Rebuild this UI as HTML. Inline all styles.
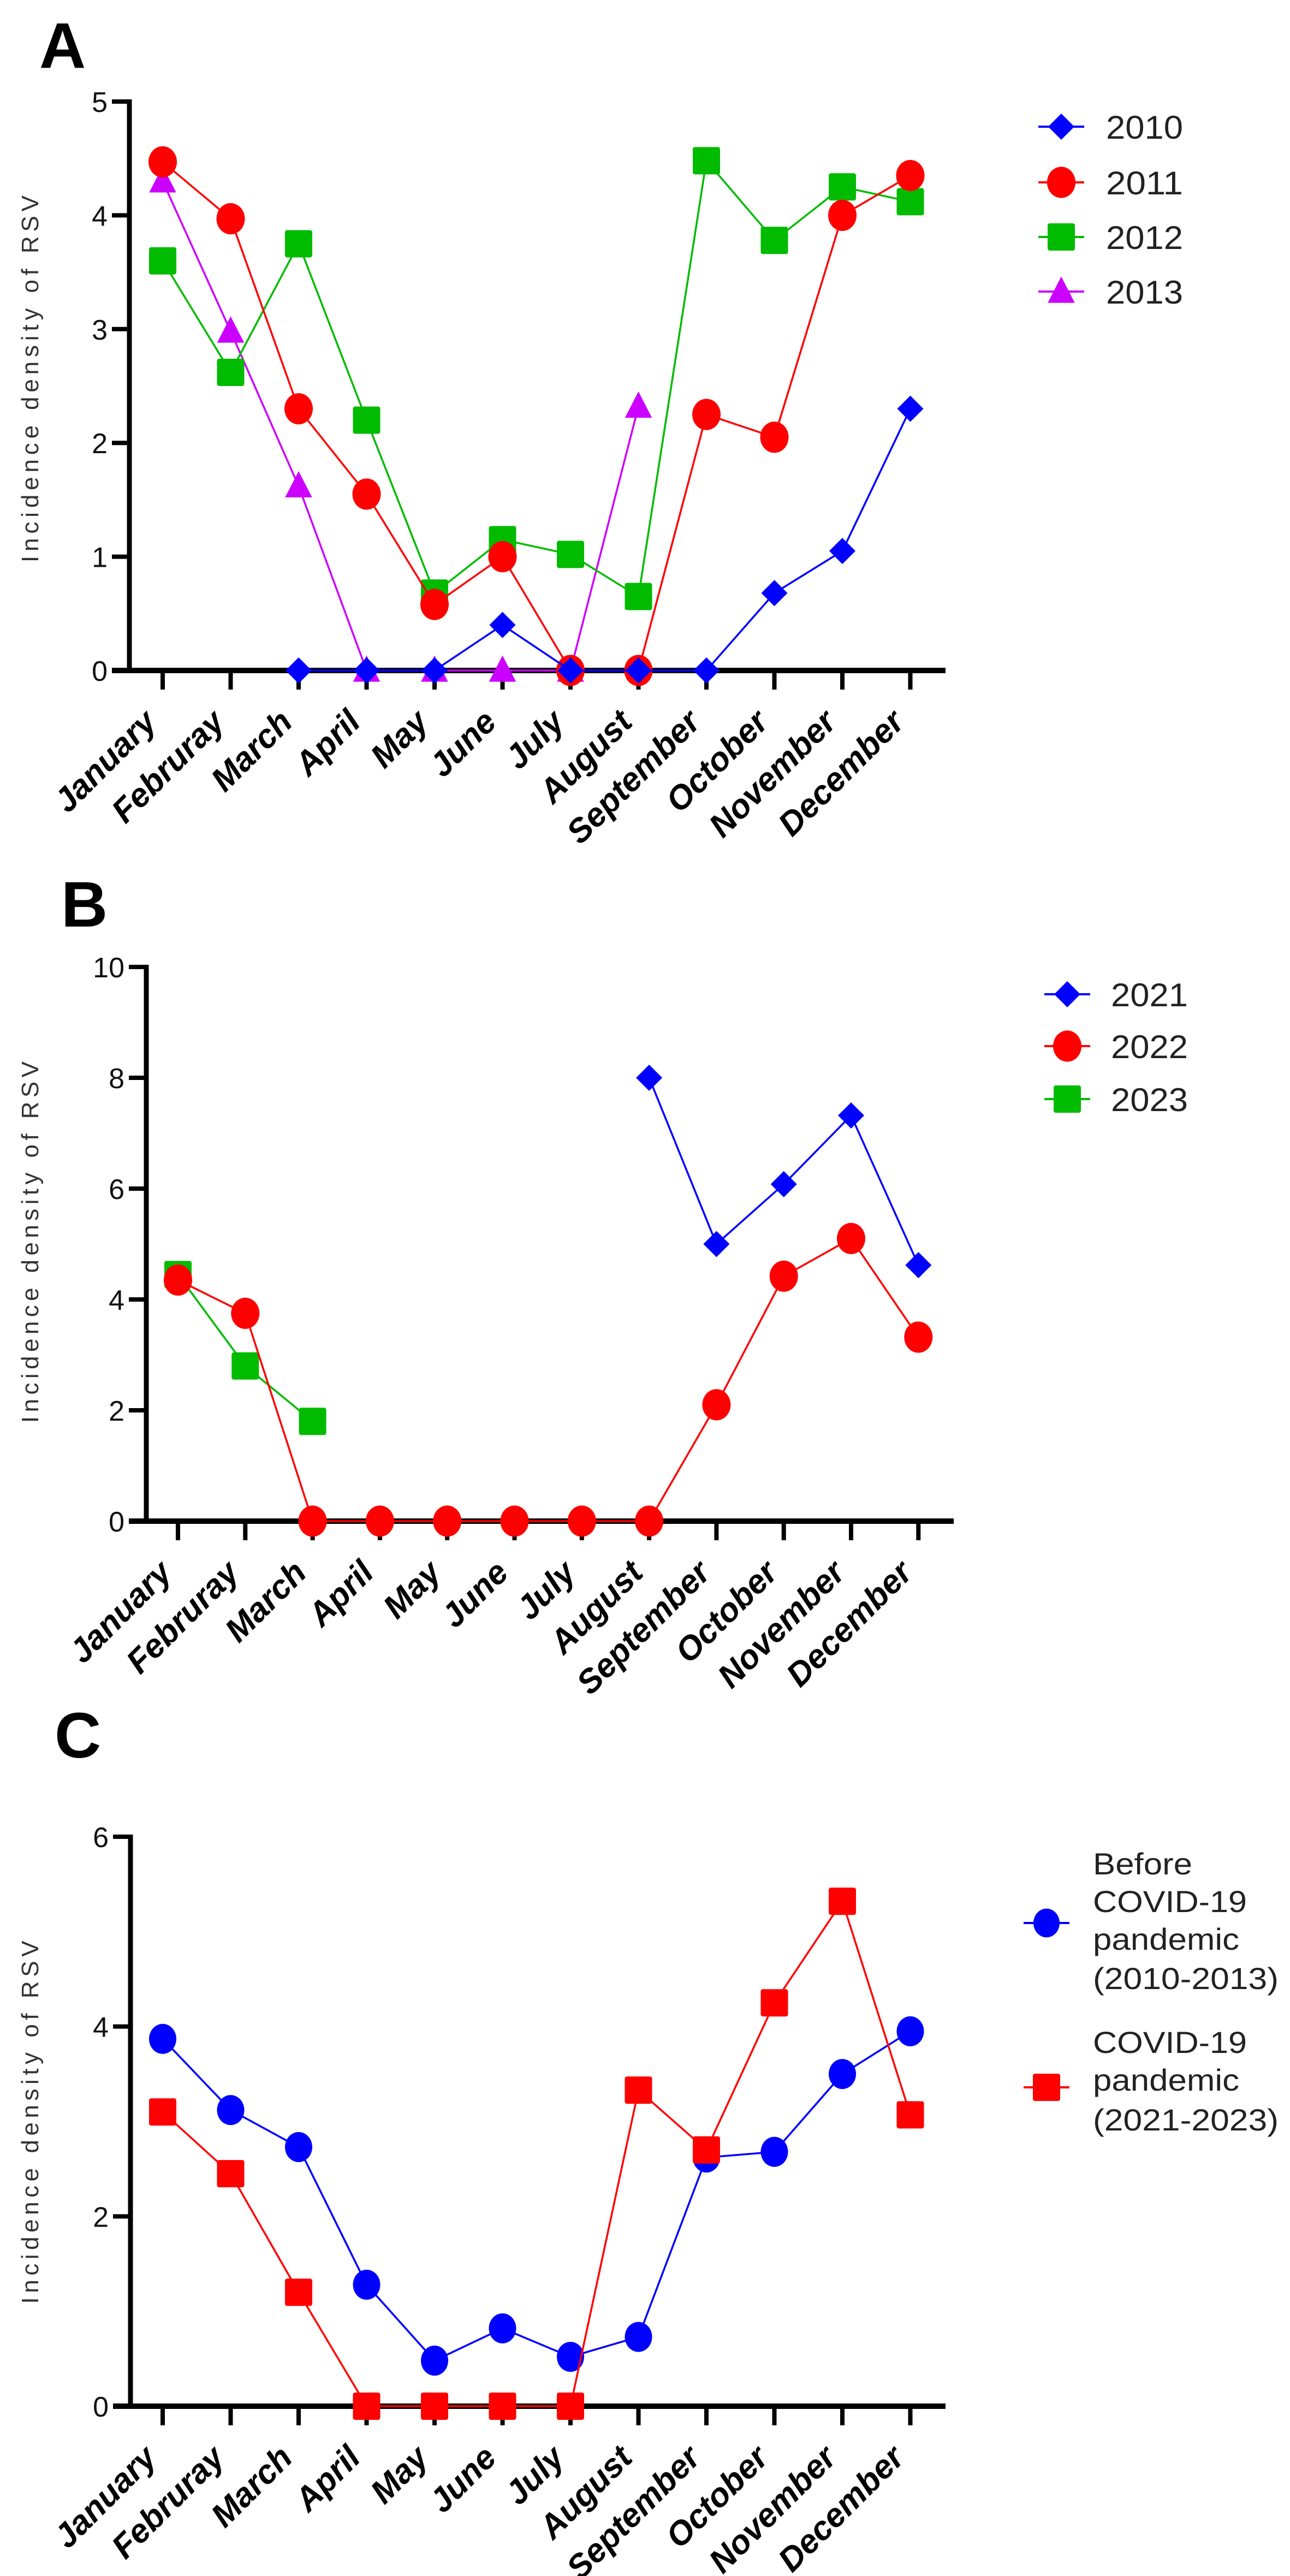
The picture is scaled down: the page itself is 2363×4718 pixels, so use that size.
<!DOCTYPE html>
<html><head><meta charset="utf-8"><style>
html,body{margin:0;padding:0;background:#fff;}
svg{display:block;}
text{font-family:"Liberation Sans",Arial,sans-serif;}
</style></head><body>
<svg id="fig" width="2363" height="4718" viewBox="0 0 2363 4718" xmlns="http://www.w3.org/2000/svg"></svg>
<script>
const months = ["January","Februray","March","April","May","June","July","August","September","October","November","December"];
// Panel A
const aTicks = [0,1,2,3,4,5];
const a2010 = [null,null,0,0,0,0.4,0,0,0,0.68,1.05,2.3];
const a2011 = [4.47,3.97,2.3,1.55,0.58,1.0,0,0,2.25,2.05,4.0,4.35];
const a2012 = [3.6,2.62,3.75,2.2,0.68,1.15,1.02,0.65,4.48,3.78,4.25,4.12];
const a2013 = [4.3,2.98,1.62,0,0,0,0,2.32,null,null,null,null];
// Panel B
const bTicks = [0,2,4,6,8,10];
const b2021 = [null,null,null,null,null,null,null,8.0,5.0,6.08,7.32,4.62];
const b2022 = [4.35,3.75,0,0,0,0,0,0,2.1,4.42,5.1,3.32];
const b2023 = [4.45,2.8,1.8,null,null,null,null,null,null,null,null,null];
// Panel C
const cTicks = [0,2,4,6];
const cBefore = [3.87,3.12,2.73,1.28,0.48,0.82,0.52,0.73,2.62,2.68,3.5,3.95];
const cCovid = [3.1,2.45,1.2,0,0,0,0,3.33,2.7,4.25,5.32,3.07];

const NS="http://www.w3.org/2000/svg";
const svg=document.getElementById('fig');
function mk(tag,attrs,parent){const e=document.createElementNS(NS,tag);for(const k in attrs)e.setAttribute(k,attrs[k]);(parent||svg).appendChild(e);return e;}

function marker(g,shape,x,y,color,s){
  let e;
  if(shape==='circle'){e=mk('ellipse',{cx:x,cy:y,rx:s*0.5,ry:s*0.55,fill:color},g);}
  else if(shape==='square'){e=mk('rect',{x:x-s/2,y:y-s/2,width:s,height:s,rx:4,fill:color},g);}
  else if(shape==='diamond'){const h=s*0.5;e=mk('polygon',{points:`${x},${y-h} ${x+h},${y} ${x},${y+h} ${x-h},${y}`,fill:color},g);}
  else {const h=s*0.55;e=mk('polygon',{points:`${x},${y-h} ${x+h*0.9},${y+h*0.75} ${x-h*0.9},${y+h*0.75}`,fill:color},g);}
  return e;
}

function panel(cfg){
  const g=mk('g',{});
  
  
  const ymax=cfg.ticks[cfg.ticks.length-1];
  const X=i=>cfg.x0+i*cfg.step;
  const Y=v=>cfg.yz-(v/ymax)*(cfg.yz-cfg.yt);
  const L=mk('text',{x:cfg.lx,y:cfg.ly,'font-size':118,'font-weight':'bold',fill:'#000'},g);
  L.textContent=cfg.letter;
  
  
  const T=mk('text',{x:0,y:0,'font-size':44,fill:'#333','text-anchor':'middle',textLength:cfg.tlen,lengthAdjust:'spacing',transform:`translate(70,${cfg.tcy}) rotate(-90)`},g);
  T.textContent='Incidence density of RSV';
  
  
  const ya=mk('line',{x1:cfg.ax,y1:Y(ymax)-4,x2:cfg.ax,y2:cfg.yz+5,stroke:'#000','stroke-width':9},g);
  
  
  cfg.ticks.forEach(t=>{
    const tk=mk('line',{x1:cfg.ax-32,y1:Y(t),x2:cfg.ax,y2:Y(t),stroke:'#000','stroke-width':8},g);
    
    
    const tl=mk('text',{x:cfg.ax-40,y:Y(t)+19,'font-size':52,'text-anchor':'end',fill:'#111'},g);
    tl.textContent=t;
    
    
  });
  const xa=mk('line',{x1:cfg.ax-32,y1:cfg.yz,x2:cfg.xend,y2:cfg.yz,stroke:'#000','stroke-width':10},g);
  
  
  months.forEach((m,i)=>{
    const tk=mk('line',{x1:X(i),y1:cfg.yz,x2:X(i),y2:cfg.yz+35,stroke:'#000','stroke-width':8},g);
    
    
    const tl=mk('text',{x:0,y:0,'font-size':61,'font-weight':'bold','font-style':'italic','text-anchor':'end',fill:'#000',transform:`translate(${X(i)-8},${cfg.yz+98}) rotate(-45)`},g);
    tl.textContent=m;
    
    
  });
  cfg.series.forEach(s=>{
    const sg=mk('g',{},g);
    
    
    let seg=[];
    const segs=[];
    s.values.forEach((v,i)=>{if(v===null){if(seg.length)segs.push(seg);seg=[];}else seg.push([X(i),Y(v)]);});
    if(seg.length)segs.push(seg);
    segs.forEach(sp=>{
      const pl=mk('polyline',{points:sp.map(p=>p.join(',')).join(' '),fill:'none',stroke:s.color,'stroke-width':3.5},sg);
      
      
    });
    s.values.forEach((v,i)=>{
      if(v===null)return;
      const mm=marker(sg,s.shape,X(i),Y(v),s.color,s.size);
      
      
    });
  });
  cfg.legend.forEach(le=>{
    const lg=mk('g',{},g);
    
    
    const ln=mk('line',{x1:le.mx-42,y1:le.my,x2:le.mx+42,y2:le.my,stroke:le.color,'stroke-width':4},lg);
    
    
    const mm=marker(lg,le.shape,le.mx,le.my,le.color,le.size);
    
    
    le.lines.forEach((txt,k)=>{
      const t=mk('text',{x:le.tx,y:le.ty[k],'font-size':le.fs,fill:'#222',textLength:le.tl[k],lengthAdjust:'spacingAndGlyphs'},lg);
      t.textContent=txt;
      
      
    });
  });
}

const BLUE='#0000ff',RED='#ff0000',GREEN='#00bb00',PURPLE='#cc00ff';

panel({name:'panel-a',letter:'A',lx:72,ly:124,ax:237,yz:1228,yt:186,x0:298,step:124.5,xend:1732,ticks:aTicks,tlen:672,tcy:694,
 series:[
  {label:'2013',values:a2013,color:PURPLE,shape:'triangle',size:50},
  {label:'2012',values:a2012,color:GREEN,shape:'square',size:50},
  {label:'2011',values:a2011,color:RED,shape:'circle',size:52},
  {label:'2010',values:a2010,color:BLUE,shape:'diamond',size:48}],
 legend:[
  {lines:['2010'],mx:1944,my:232,color:BLUE,shape:'diamond',size:48,tx:2026,ty:[254],fs:60,tl:[141]},
  {lines:['2011'],mx:1944,my:334,color:RED,shape:'circle',size:52,tx:2026,ty:[356],fs:60,tl:[141]},
  {lines:['2012'],mx:1944,my:434,color:GREEN,shape:'square',size:50,tx:2026,ty:[456],fs:60,tl:[141]},
  {lines:['2013'],mx:1944,my:534,color:PURPLE,shape:'triangle',size:50,tx:2026,ty:[556],fs:60,tl:[141]}]
});

panel({name:'panel-b',letter:'B',lx:112,ly:1697,ax:268,yz:2786,yt:1771,x0:326,step:123.3,xend:1747,ticks:bTicks,tlen:662,tcy:2275,
 series:[
  {label:'2023',values:b2023,color:GREEN,shape:'square',size:50},
  {label:'2022',values:b2022,color:RED,shape:'circle',size:52},
  {label:'2021',values:b2021,color:BLUE,shape:'diamond',size:48}],
 legend:[
  {lines:['2021'],mx:1955,my:1821,color:BLUE,shape:'diamond',size:48,tx:2035,ty:[1843],fs:60,tl:[141]},
  {lines:['2022'],mx:1955,my:1916,color:RED,shape:'circle',size:52,tx:2035,ty:[1938],fs:60,tl:[141]},
  {lines:['2023'],mx:1955,my:2013,color:GREEN,shape:'square',size:50,tx:2035,ty:[2035],fs:60,tl:[141]}]
});

panel({name:'panel-c',letter:'C',lx:100,ly:3219,ax:239,yz:4407,yt:3364,x0:298,step:124.5,xend:1732,ticks:cTicks,tlen:665,tcy:3887,
 series:[
  {label:'Before COVID-19',values:cBefore,color:BLUE,shape:'circle',size:50},
  {label:'COVID-19',values:cCovid,color:RED,shape:'square',size:50}],
 legend:[
  {lines:['Before','COVID-19','pandemic','(2010-2013)'],mx:1917,my:3522,color:BLUE,shape:'circle',size:48,tx:2002,ty:[3433,3502,3571,3643],fs:56,tl:[182,282,268,340]},
  {lines:['COVID-19','pandemic','(2021-2023)'],mx:1917,my:3823,color:RED,shape:'square',size:50,tx:2002,ty:[3760,3829,3902],fs:56,tl:[282,268,340]}]
});
</script>
</body></html>
